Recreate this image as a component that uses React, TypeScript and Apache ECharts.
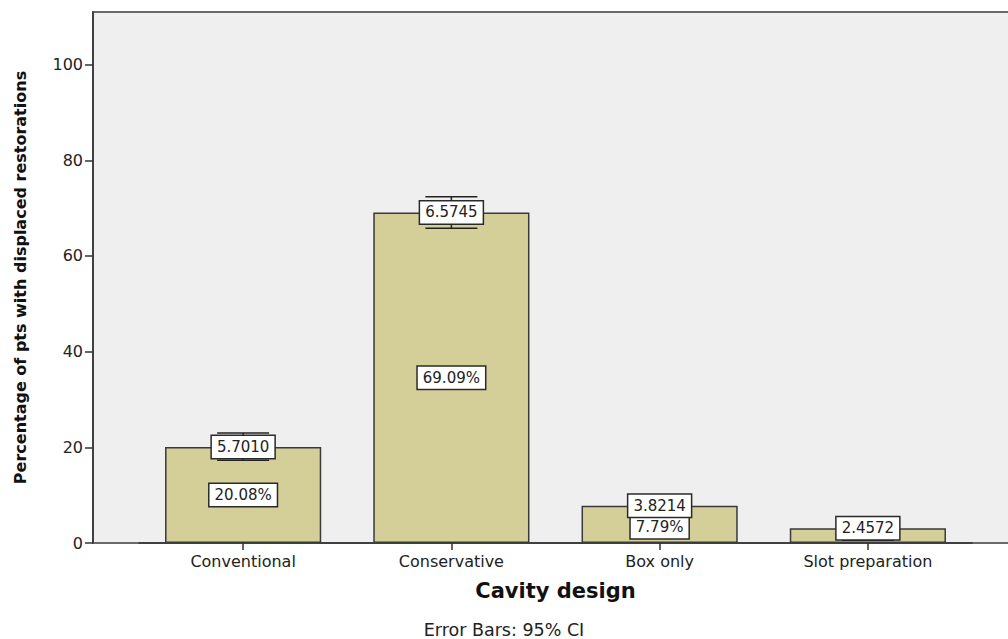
import React, { useEffect, useRef } from "react";
import * as echarts from "echarts";

const categories = ["Conventional", "Conservative", "Box only", "Slot preparation"];
const percentValues = [20.08, 69.09, 7.79, 3.1];
const percentLabels = ["20.08%", "69.09%", "7.79%", ""];
const ciLow = [17.3, 65.8, 6.2, 0.6];
const ciHigh = [23.0, 72.4, 9.4, 5.3];
const errorLabels = ["5.7010", "6.5745", "3.8214", "2.4572"];
const yTicks = [0, 20, 40, 60, 80, 100];

const FONT = "'DejaVu Sans', 'Liberation Sans', Arial, sans-serif";

export default function App() {
  const ref = useRef<HTMLDivElement>(null);

  useEffect(() => {
    if (!ref.current) return;
    const chart = echarts.init(ref.current, null, { renderer: "svg" });

    const boxLabel = {
      fontSize: 15,
      lineHeight: 17,
      color: "#222",
      fontFamily: FONT,
      backgroundColor: "#ffffff",
      borderColor: "#2a2a2a",
      borderWidth: 1.5,
      padding: [3, 5, 2, 5],
    };

    const option: any = {
      animation: false,
      backgroundColor: "#ffffff",
      textStyle: { fontFamily: FONT },
      grid: { left: 139, right: 36, top: 12, bottom: 96, containLabel: false },
      graphic: [
        {
          type: "rect",
          z: -1,
          silent: true,
          shape: { x: 93, y: 12, width: 930, height: 531 },
          style: { fill: "#efefef", stroke: "#6a6a6a", lineWidth: 2 },
        },
        {
          type: "text",
          left: "center",
          top: 621,
          style: { text: "Error Bars: 95% CI", font: `17.5px ${FONT}`, fill: "#222" },
        },
      ],
      xAxis: {
        type: "category",
        data: categories,
        name: "Cavity design",
        nameLocation: "middle",
        nameGap: 37,
        nameTextStyle: { fontSize: 21, fontWeight: "bold", color: "#111", fontFamily: FONT },
        axisLine: { show: true, lineStyle: { color: "#333", width: 1.5 } },
        axisTick: { show: true, alignWithLabel: true, length: 7, lineStyle: { color: "#333", width: 1.5 } },
        axisLabel: { margin: 10, fontSize: 16, color: "#222", fontFamily: FONT },
        splitLine: { show: false },
      },
      yAxis: {
        type: "value",
        min: 0,
        max: 111,
        interval: 20,
        offset: 46,
        name: "Percentage of pts with displaced restorations",
        nameLocation: "middle",
        nameGap: 65,
        nameRotate: 90,
        nameTextStyle: { fontSize: 16, fontWeight: "bold", color: "#111", fontFamily: FONT },
        axisLine: { show: true, lineStyle: { color: "#333", width: 1.5 } },
        axisTick: { show: true, length: 8, customValues: yTicks, lineStyle: { color: "#333", width: 1.5 } },
        axisLabel: { margin: 10, fontSize: 16, color: "#222", fontFamily: FONT, customValues: yTicks },
        splitLine: { show: false },
      },
      series: [
        {
          type: "bar",
          data: percentValues.map((v, i) => ({
            value: v,
            label: { show: percentLabels[i] !== "", offset: i === 2 ? [0, 3] : [0, 0] },
          })),
          barWidth: "75%",
          itemStyle: { color: "#d4cf99", borderColor: "#3a3a3a", borderWidth: 1.5 },
          label: {
            show: true,
            position: "inside",
            formatter: (p: any) => percentLabels[p.dataIndex],
            ...boxLabel,
          },
          z: 2,
        },
        {
          type: "custom",
          z: 3,
          data: categories.map((_, i) => [i, ciLow[i], ciHigh[i]]),
          renderItem: (params: any, api: any) => {
            const idx = api.value(0);
            const lo = api.coord([idx, api.value(1)]);
            const hi = api.coord([idx, api.value(2)]);
            const half = 26;
            const style = { stroke: "#222", lineWidth: 1.5 };
            return {
              type: "group",
              children: [
                { type: "line", shape: { x1: lo[0], y1: lo[1], x2: hi[0], y2: hi[1] }, style },
                { type: "line", shape: { x1: lo[0] - half, y1: lo[1], x2: lo[0] + half, y2: lo[1] }, style },
                { type: "line", shape: { x1: hi[0] - half, y1: hi[1], x2: hi[0] + half, y2: hi[1] }, style },
              ],
            };
          },
        },
        {
          type: "scatter",
          z: 4,
          symbolSize: 1,
          itemStyle: { color: "rgba(0,0,0,0)", opacity: 1 },
          emphasis: { disabled: true },
          data: percentValues.map((v, i) => [i, v]),
          label: {
            show: true,
            position: "inside",
            formatter: (p: any) => errorLabels[p.dataIndex],
            ...boxLabel,
          },
        },
      ],
    };

    chart.setOption(option);
    return () => chart.dispose();
  }, []);

  return (
    <div
      ref={ref}
      style={{ position: "fixed", left: 0, top: 0, width: 1008, height: 639 }}
    />
  );
}
